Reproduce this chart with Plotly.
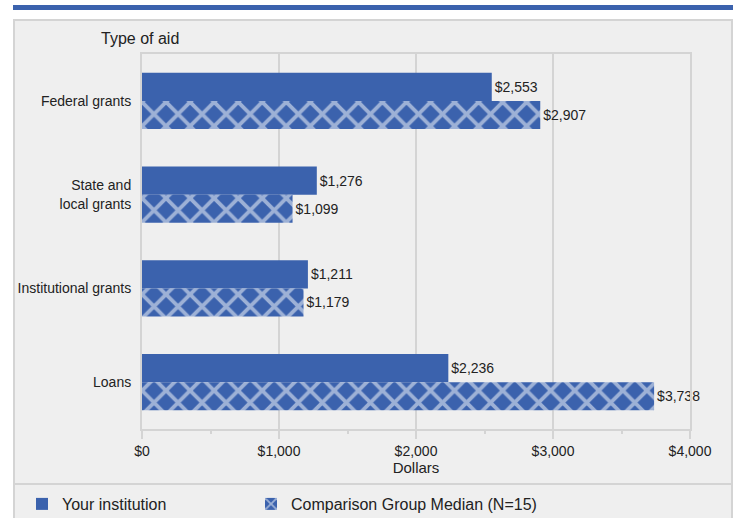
import plotly.graph_objects as go

categories = ["Federal grants", "State and<br>local grants", "Institutional grants", "Loans"]
your_institution = [2553, 1276, 1211, 2236]
comparison_median = [2907, 1099, 1179, 3738]
x_tick_values = [0, 1000, 2000, 3000, 4000]
x_tick_labels = ["$0", "$1,000", "$2,000", "$3,000", "$4,000"]

BLUE = "#3b62ad"
GRID = "#d4d4d4"
PANEL = "#efefef"
TEXT = "#222222"
FONT = "Liberation Sans, Arial, sans-serif"

W, H = 737, 518
L, R, T, B = 142, 47, 54, 89
PW = W - L - R
PH = H - T - B


def px_x(px):
    return (px - L) / PW


def px_y(py):
    return (H - B - py) / PH


fig = go.Figure()
fig.add_trace(go.Bar(
    y=categories, x=your_institution, orientation="h",
    name="Your institution", legend="legend",
    marker=dict(color=BLUE, line=dict(width=0)),
    text=[f"${v:,}" for v in your_institution],
    textposition="outside", cliponaxis=False,
    textfont=dict(size=14, color=TEXT, family=FONT),
))
fig.add_trace(go.Bar(
    y=categories, x=comparison_median, orientation="h",
    name="Comparison Group Median (N=15)", legend="legend2",
    marker=dict(color=BLUE, line=dict(width=0),
                pattern=dict(shape="x", fgcolor="white", bgcolor=BLUE,
                             size=17, solidity=0.4, fillmode="overlay")),
    text=[f"${v:,}" for v in comparison_median],
    textposition="outside", cliponaxis=False,
    textfont=dict(size=14, color=TEXT, family=FONT),
))

shapes = [
    # top blue band
    dict(type="rect", xref="paper", yref="paper",
         x0=px_x(13), x1=px_x(733), y0=px_y(10), y1=px_y(5),
         fillcolor=BLUE, line=dict(width=0), layer="below"),
    # grey panel
    dict(type="rect", xref="paper", yref="paper",
         x0=px_x(14), x1=px_x(732), y0=px_y(530), y1=px_y(20),
         fillcolor=PANEL, line=dict(color=GRID, width=2), layer="below"),
    # legend separator
    dict(type="line", xref="paper", yref="paper",
         x0=px_x(14), x1=px_x(732), y0=px_y(484), y1=px_y(484),
         line=dict(color=GRID, width=2), layer="below"),
]

legend_common = dict(
    orientation="h", xanchor="left", yanchor="middle",
    font=dict(size=16, color=TEXT, family=FONT),
    bgcolor="rgba(0,0,0,0)",
)

fig.update_layout(
    width=W, height=H,
    margin=dict(l=L, r=R, t=T, b=B, pad=0, autoexpand=False),
    paper_bgcolor="white",
    plot_bgcolor="rgba(0,0,0,0)",
    barmode="group",
    bargap=0.4, bargroupgap=0,
    font=dict(family=FONT, size=14, color=TEXT),
    shapes=shapes,
    showlegend=True,
    legend=dict(x=px_x(22), y=px_y(504), **legend_common),
    legend2=dict(x=px_x(251), y=px_y(504), **legend_common),
    annotations=[
        dict(text="Type of aid", xref="paper", yref="paper",
             x=px_x(99), y=px_y(39), xanchor="left", yanchor="middle",
             showarrow=False, font=dict(size=16, color=TEXT, family=FONT)),
    ],
    xaxis=dict(
        range=[0, 4000],
        tickvals=x_tick_values, ticktext=x_tick_labels,
        showgrid=True, gridcolor=GRID, gridwidth=2,
        showline=True, linecolor=GRID, linewidth=2, mirror=True,
        zeroline=False,
        ticks="outside", ticklen=8, tickcolor=GRID, tickwidth=2,
        ticklabelstandoff=0,
        minor=dict(dtick=500, tick0=0, ticks="outside", ticklen=3,
                   tickcolor=GRID, tickwidth=2, showgrid=False),
        tickfont=dict(size=14, color=TEXT, family=FONT),
        title=dict(text="Dollars", standoff=5,
                   font=dict(size=15, color=TEXT, family=FONT)),
        fixedrange=True,
        automargin=False,
    ),
    yaxis=dict(
        autorange="reversed",
        showgrid=False,
        showline=True, linecolor=GRID, linewidth=2, mirror=True,
        ticks="", ticklabelstandoff=6,
        tickfont=dict(size=14, color=TEXT, family=FONT),
        fixedrange=True,
        automargin=False,
    ),
)

fig.write_html(
    "out.html",
    config={"displayModeBar": False},
    post_script="document.body.style.margin='0';document.body.style.overflow='hidden';",
)
